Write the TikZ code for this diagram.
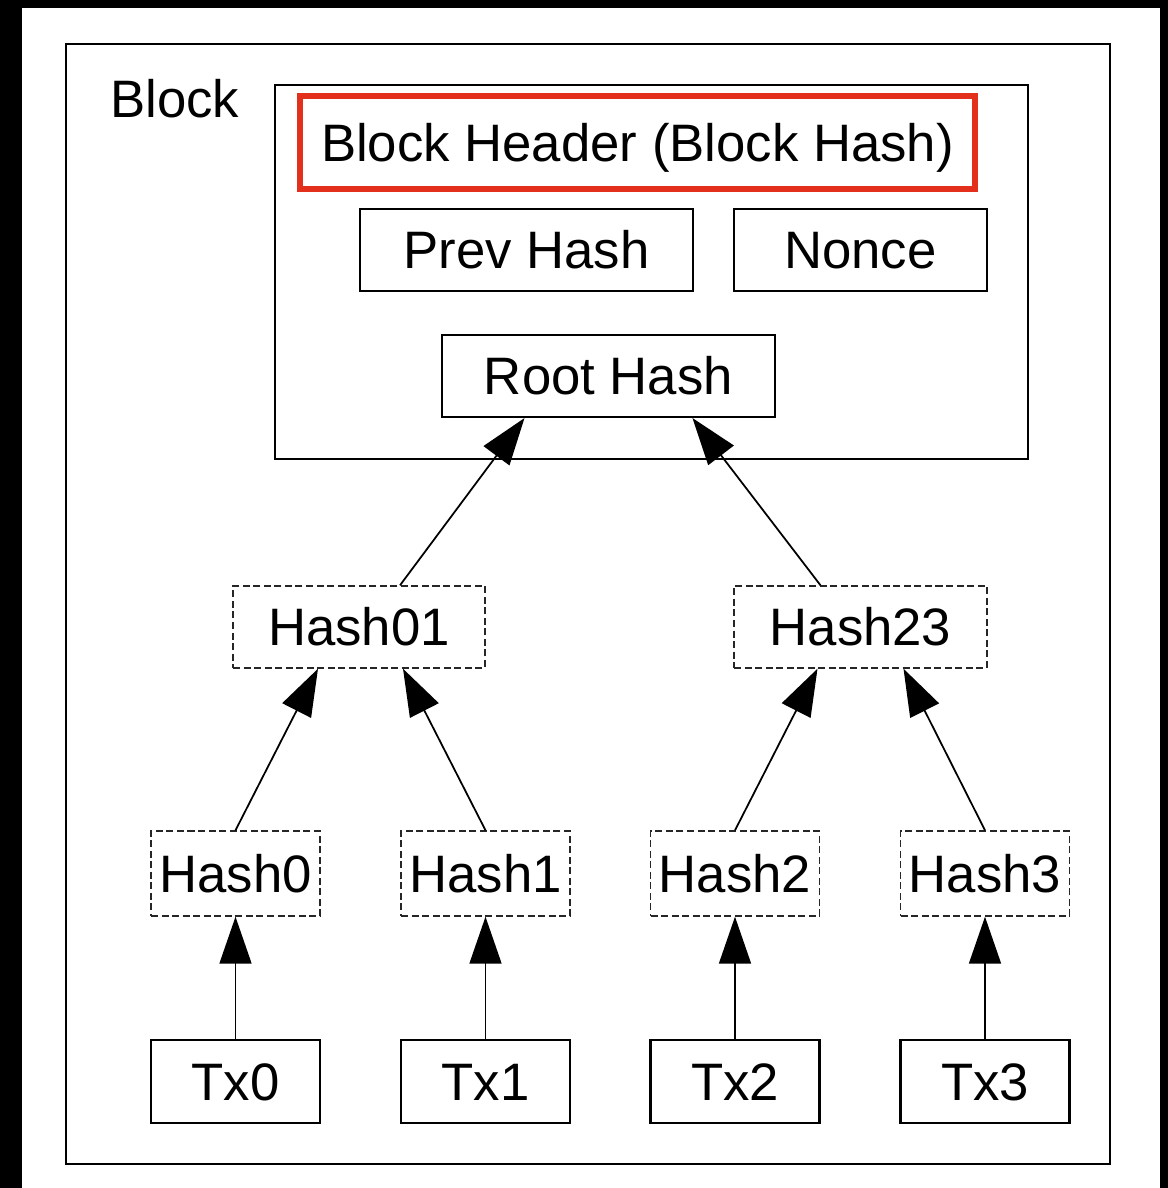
\documentclass[tikz,border=0pt]{standalone}
\usepackage{fontspec}
\setmainfont{Liberation Sans}
\usepackage{tikz}
\usetikzlibrary{arrows.meta, calc}
\definecolor{hdrred}{RGB}{226,48,28}
\tikzset{
	box/.style={draw, line width=1.2pt, inner sep=0pt, text height=21.5pt, text depth=0pt},
	dashbox/.style={draw, line width=0.8pt, dash pattern=on 4pt off 2pt, inner sep=0pt, text height=21.5pt, text depth=0pt, draw=black!85},
	hdrbox/.style={draw=hdrred, line width=3pt, inner sep=0pt, text height=21.5pt, text depth=0pt},
	size/.style 2 args={minimum width=#1*0.02cm, minimum height=#2*0.02cm},
	link/.style={line width=1pt, -{Triangle[length=0.94cm, width=0.64cm]}}
}

\begin{document}
\begin{tikzpicture}[x=0.02cm, y=-0.02cm, font=\fontsize{30}{36}\selectfont]
	\fill[black] (0,0) rectangle (1168,1188);
	\fill[white] (22,8) rectangle (1160,1188);
	\useasboundingbox (0,0) rectangle (1168,1188);

	% the block and its header
	\node[box, line width=1.4pt, size={1044}{1120}] (block) at (588,604) {};
	\node[anchor=base west, inner sep=0pt] (blocklabel) at (110,117) {Block};
	\node[box, size={753}{374}] (header) at (651.5,272) {};
	\node[hdrbox, size={675}{93}] (hdr) at (637.5,142.5) {Block Header (Block Hash)};
	\node[box, size={333}{82}] (prev) at (526.5,250) {Prev Hash};
	\node[box, size={253}{82}] (nonce) at (860.5,250) {Nonce};
	\node[box, size={333}{82}] (root) at (608.5,376) {Root Hash};

	% merkle tree
	\node[dashbox, size={252}{82}] (h01) at (359,627) {Hash01};
	\node[dashbox, size={253}{82}] (h23) at (860.5,627) {Hash23};
	\foreach \i/\x in {0/235.5, 1/485.5, 2/735, 3/985} {
		\node[dashbox, size={169}{85}] (h\i) at (\x,873.5) {Hash\i};
		\node[box, size={169}{83}] (tx\i) at (\x,1081.5) {Tx\i};
		\draw[link] (tx\i.north) -- (h\i.south);
	}

	\draw[link] ($(h01.north)+(41,0)$) -- ($(root.south)+(-84,0)$);
	\draw[link] ($(h23.north)+(-40,0)$) -- ($(root.south)+(84,0)$);
	\draw[link] (h0.north) -- ($(h01.south)+(-41,0)$);
	\draw[link] (h1.north) -- ($(h01.south)+(44,0)$);
	\draw[link] (h2.north) -- ($(h23.south)+(-43,0)$);
	\draw[link] (h3.north) -- ($(h23.south)+(43,0)$);
\end{tikzpicture}
\end{document}
